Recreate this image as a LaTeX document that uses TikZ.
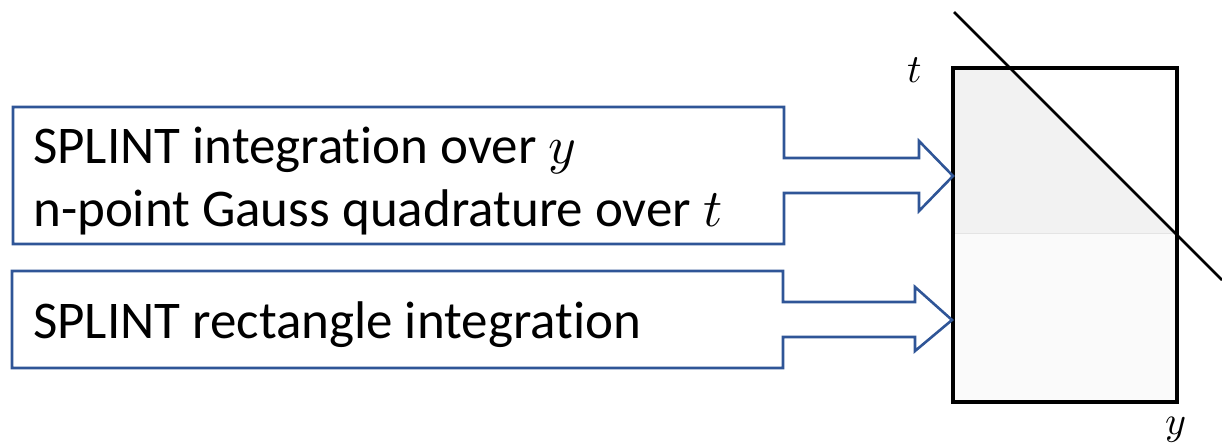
\documentclass[tikz,border=0pt]{standalone}
\usepackage{fontspec}
\usepackage{unicode-math}
\setmainfont[Ligatures=NoCommon]{Carlito}
\setmathfont{Latin Modern Math}
\definecolor{calloutblue}{HTML}{2F5597}
\definecolor{topgray}{HTML}{F2F2F2}
\definecolor{botgray}{HTML}{FAFAFA}
\definecolor{midline}{HTML}{E4E4E4}
\tikzset{
  callout/.style={draw=calloutblue, line width=2.6pt, fill=white, line join=miter},
  label/.style={anchor=base west, inner sep=0pt, font=\fontsize{53}{60}\selectfont},
  axislabel/.style={inner sep=0pt, font=\fontsize{40}{48}\selectfont},
}
\begin{document}
\begin{tikzpicture}[x=1pt,y=-1pt]
\useasboundingbox (0,0) rectangle (1222,446);
% domain rectangle
\fill[topgray] (953,68) -- (1010,68) -- (1177,234) -- (953,234) -- cycle;
\fill[botgray] (953,234) rectangle (1177,402);
\draw[midline, line width=1pt] (953,234) -- (1177,234);
\draw[black, line width=3.5pt] (953,68) rectangle (1177,402);
\coordinate (d1) at (954,12);
\coordinate (d2) at (1222,280);
\draw[black, line width=2.6pt] (d1) -- (d2);
\node[axislabel] (tl) at (915,70) {$t$};
\node[axislabel] (yl) at (1176,430) {$y$};
% callout 1
\draw[callout] (13,107) -- (784,107) -- (784,158) -- (919,158) -- (919,141) -- (953,176)
  -- (919,211) -- (919,193) -- (784,193) -- (784,244) -- (13,244) -- cycle;
% callout 2
\draw[callout] (12,271) -- (783,271) -- (783,302) -- (915,302) -- (915,287) -- (952,320)
  -- (915,351) -- (915,337) -- (783,337) -- (783,368) -- (12,368) -- cycle;
\node[label] (l1) at (33,164) {SPLINT integration over $y$};
\node[label] (l2) at (33,227) {n-point Gauss quadrature over $t$};
\node[label] (l3) at (33,338) {SPLINT rectangle integration};
\end{tikzpicture}
\end{document}
